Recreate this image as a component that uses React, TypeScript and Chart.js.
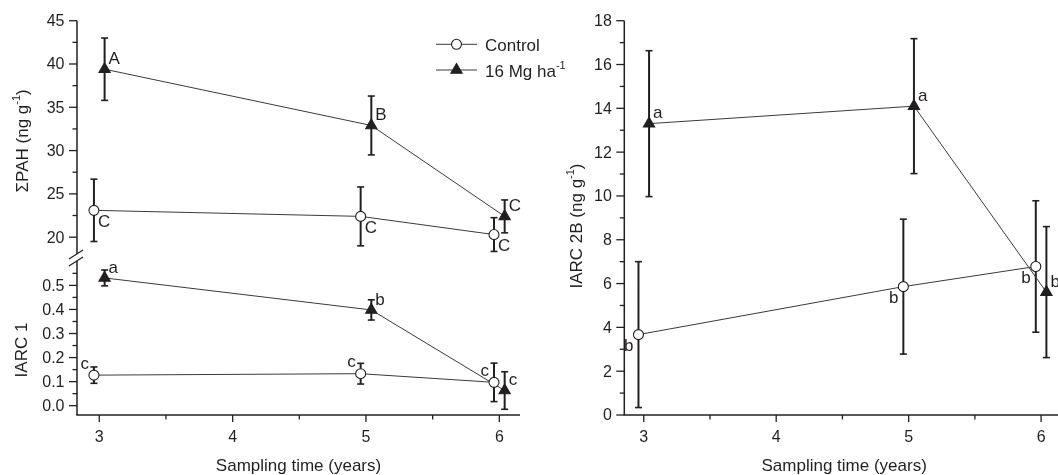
import React, { useEffect, useRef } from 'react';
import { Chart, registerables } from 'chart.js';

Chart.register(...registerables);

// ---------------- data ----------------
const controlX = [2.96, 4.96, 5.96];
const treatX = [3.04, 5.04, 6.04];

const pahControl = [23.1, 22.4, 20.3];
const pahControlSd = [3.6, 3.4, 1.95];
const pahTreat = [39.4, 32.9, 22.4];
const pahTreatSd = [3.6, 3.4, 1.9];
const pahControlLetters = ['C', 'C', 'C'];
const pahTreatLetters = ['A', 'B', 'C'];

const iarc1Control = [0.127, 0.133, 0.097];
const iarc1ControlSd = [0.034, 0.043, 0.08];
const iarc1Treat = [0.531, 0.398, 0.063];
const iarc1TreatSd = [0.033, 0.042, 0.078];
const iarc1ControlLetters = ['c', 'c', 'c'];
const iarc1TreatLetters = ['a', 'b', 'c'];

const iarc2bControl = [3.67, 5.86, 6.78];
const iarc2bControlSd = [3.33, 3.08, 3.0];
const iarc2bTreat = [13.3, 14.1, 5.61];
const iarc2bTreatSd = [3.33, 3.08, 2.99];
const iarc2bControlLetters = ['b', 'b', 'b'];
const iarc2bTreatLetters = ['a', 'a', 'b'];

const xMajorTicks = [3, 4, 5, 6];
const xMinorTicks = [3.5, 4.5, 5.5];
const xTickLabels = ['3', '4', '5', '6'];

const pahMajorTicks = [20, 25, 30, 35, 40, 45];
const pahMinorTicks = [22.5, 27.5, 32.5, 37.5, 42.5];
const pahTickLabels = ['20', '25', '30', '35', '40', '45'];

const iarc1MajorTicks = [0, 0.1, 0.2, 0.3, 0.4, 0.5];
const iarc1MinorTicks = [0.05, 0.15, 0.25, 0.35, 0.45, 0.55];
const iarc1TickLabels = ['0.0', '0.1', '0.2', '0.3', '0.4', '0.5'];

const iarc2bMajorTicks = [0, 2, 4, 6, 8, 10, 12, 14, 16, 18];
const iarc2bMinorTicks = [1, 3, 5, 7, 9, 11, 13, 15, 17];
const iarc2bTickLabels = ['0', '2', '4', '6', '8', '10', '12', '14', '16', '18'];

const legendLabels = ['Control', '16 Mg ha'];
const xTitle = 'Sampling time (years)';

// ---------------- style ----------------
const FONT = '"Liberation Sans", Arial, Helvetica, sans-serif';
const INK = '#231f20';
const LINE = '#3a3a3a';
const TICK_FONT = 16;
const TITLE_FONT = 17;
const LETTER_FONT = 17;

type Seg = { t: string; sup?: boolean };

function drawRich(ctx: CanvasRenderingContext2D, segs: Seg[], size: number, x: number, y: number, align: 'center' | 'left', rotate: boolean) {
  ctx.save();
  ctx.translate(x, y);
  if (rotate) ctx.rotate(-Math.PI / 2);
  let w = 0;
  for (const s of segs) {
    ctx.font = `${s.sup ? Math.round(size * 0.62) : size}px ${FONT}`;
    w += ctx.measureText(s.t).width;
  }
  let cx = align === 'center' ? -w / 2 : 0;
  ctx.fillStyle = INK;
  ctx.textAlign = 'left';
  ctx.textBaseline = 'alphabetic';
  for (const s of segs) {
    ctx.font = `${s.sup ? Math.round(size * 0.62) : size}px ${FONT}`;
    ctx.fillText(s.t, cx, s.sup ? -size * 0.45 : 0);
    cx += ctx.measureText(s.t).width;
  }
  ctx.restore();
}

function line(ctx: CanvasRenderingContext2D, x1: number, y1: number, x2: number, y2: number, w: number, c = INK) {
  ctx.save();
  ctx.strokeStyle = c;
  ctx.lineWidth = w;
  ctx.beginPath();
  ctx.moveTo(x1, y1);
  ctx.lineTo(x2, y2);
  ctx.stroke();
  ctx.restore();
}

function drawYTicks(ctx: CanvasRenderingContext2D, scale: any, ax: number, major: number[], labels: string[], minor: number[]) {
  major.forEach((v, i) => {
    const y = scale.getPixelForValue(v);
    line(ctx, ax - 8, y, ax, y, 1.3);
    ctx.save();
    ctx.font = `${TICK_FONT}px ${FONT}`;
    ctx.fillStyle = INK;
    ctx.textAlign = 'right';
    ctx.textBaseline = 'middle';
    ctx.fillText(labels[i], ax - 12.5, y + 1);
    ctx.restore();
  });
  minor.forEach((v) => {
    const y = scale.getPixelForValue(v);
    line(ctx, ax - 4.5, y, ax, y, 1.3);
  });
}

function drawXTicks(ctx: CanvasRenderingContext2D, scale: any, by: number) {
  xMajorTicks.forEach((v, i) => {
    const x = scale.getPixelForValue(v);
    line(ctx, x, by, x, by + 7, 1.3);
    ctx.save();
    ctx.font = `${TICK_FONT}px ${FONT}`;
    ctx.fillStyle = INK;
    ctx.textAlign = 'center';
    ctx.textBaseline = 'alphabetic';
    ctx.fillText(xTickLabels[i], x, by + 27);
    ctx.restore();
  });
  xMinorTicks.forEach((v) => {
    const x = scale.getPixelForValue(v);
    line(ctx, x, by, x, by + 4.5, 1.3);
  });
}

function drawMarker(ctx: CanvasRenderingContext2D, kind: string, x: number, y: number) {
  ctx.save();
  ctx.lineWidth = 1.1;
  ctx.strokeStyle = INK;
  ctx.beginPath();
  if (kind === 'control') {
    ctx.fillStyle = '#fff';
    ctx.arc(x, y, 5, 0, Math.PI * 2);
  } else {
    ctx.fillStyle = INK;
    const r = 6.5;
    ctx.moveTo(x, y - r);
    ctx.lineTo(x + r * 0.866, y + r / 2);
    ctx.lineTo(x - r * 0.866, y + r / 2);
    ctx.closePath();
  }
  ctx.fill();
  ctx.stroke();
  ctx.restore();
}

function makeDataset(xs: number[], ys: number[], sd: number[], letters: string[], yAxisID: string, kind: string, letterPos: string) {
  const control = kind === 'control';
  return {
    data: xs.map((x, i) => ({ x, y: ys[i] })),
    yAxisID,
    xAxisID: 'x',
    sd,
    letters,
    letterPos,
    borderColor: LINE,
    borderWidth: 1,
    tension: 0,
    fill: false,
    clip: false,
    pointStyle: control ? 'circle' : 'triangle',
    pointRadius: control ? 5 : 6.5,
    pointBackgroundColor: control ? '#ffffff' : INK,
    pointBorderColor: INK,
    pointBorderWidth: 1.1,
  };
}

const errorBarPlugin = {
  id: 'errorBars',
  beforeDatasetsDraw(chart: any) {
    const ctx = chart.ctx as CanvasRenderingContext2D;
    chart.data.datasets.forEach((ds: any) => {
      const xs = chart.scales[ds.xAxisID];
      const ys = chart.scales[ds.yAxisID];
      ds.data.forEach((p: any, j: number) => {
        const x = xs.getPixelForValue(p.x);
        const yt = ys.getPixelForValue(p.y + ds.sd[j]);
        const yb = ys.getPixelForValue(p.y - ds.sd[j]);
        line(ctx, x, yt, x, yb, 2);
        line(ctx, x - 3.5, yt, x + 3.5, yt, 1.6);
        line(ctx, x - 3.5, yb, x + 3.5, yb, 1.6);
      });
    });
  },
  afterDatasetsDraw(chart: any) {
    const ctx = chart.ctx as CanvasRenderingContext2D;
    chart.data.datasets.forEach((ds: any) => {
      const xs = chart.scales[ds.xAxisID];
      const ys = chart.scales[ds.yAxisID];
      ds.data.forEach((p: any, j: number) => {
        const x = xs.getPixelForValue(p.x);
        const y = ys.getPixelForValue(p.y);
        ctx.save();
        ctx.font = `${LETTER_FONT}px ${FONT}`;
        ctx.fillStyle = INK;
        ctx.textBaseline = 'middle';
        let tx = x, ty = y;
        if (ds.letterPos === 'ur') { ctx.textAlign = 'left'; tx = x + 4; ty = y - 10; }
        else if (ds.letterPos === 'lr') { ctx.textAlign = 'left'; tx = x + 4; ty = y + 12; }
        else if (ds.letterPos === 'ul') { ctx.textAlign = 'right'; tx = x - 5; ty = y - 11; }
        else { ctx.textAlign = 'right'; tx = x - 5; ty = y + 12; }
        ctx.fillText(ds.letters[j], tx, ty);
        ctx.restore();
      });
    });
  },
};

const leftDecor = {
  id: 'leftDecor',
  afterDraw(chart: any) {
    const ctx = chart.ctx as CanvasRenderingContext2D;
    const { x, yUp, yLow } = chart.scales;
    const ax = chart.chartArea.left;
    const bottom = chart.chartArea.bottom;
    const yb = yUp.bottom;
    // axes
    line(ctx, ax, chart.chartArea.top, ax, yb - 3, 1.5);
    line(ctx, ax, yb + 4, ax, bottom, 1.5);
    line(ctx, ax - 0.75, bottom, chart.chartArea.right, bottom, 1.5);
    // break marks
    line(ctx, ax - 8, yb + 2, ax + 6, yb - 7, 1.3);
    line(ctx, ax - 8, yb + 9, ax + 6, yb, 1.3);
    drawYTicks(ctx, yUp, ax, pahMajorTicks, pahTickLabels, pahMinorTicks);
    drawYTicks(ctx, yLow, ax, iarc1MajorTicks, iarc1TickLabels, iarc1MinorTicks);
    drawXTicks(ctx, x, bottom);
    // titles
    drawRich(ctx, [{ t: xTitle }], TITLE_FONT, (chart.chartArea.left + chart.chartArea.right) / 2, 471, 'center', false);
    drawRich(ctx, [{ t: 'ΣPAH (ng g' }, { t: '-1', sup: true }, { t: ')' }], TITLE_FONT, 28, (yUp.top + yUp.bottom) / 2 + 2, 'center', true);
    drawRich(ctx, [{ t: 'IARC 1' }], TITLE_FONT, 27, (yLow.top + yLow.bottom) / 2 + 14, 'center', true);
    // legend
    const ly = [44.3, 70];
    const kinds = ['control', 'treat'];
    ly.forEach((y, i) => {
      line(ctx, 436, y, 477, y, 1, LINE);
      drawMarker(ctx, kinds[i], 456.5, y);
    });
    drawRich(ctx, [{ t: legendLabels[0] }], TITLE_FONT, 485, ly[0] + 6.5, 'left', false);
    drawRich(ctx, [{ t: legendLabels[1] }, { t: '-1', sup: true }], TITLE_FONT, 485, ly[1] + 6.5, 'left', false);
  },
};

const rightDecor = {
  id: 'rightDecor',
  afterDraw(chart: any) {
    const ctx = chart.ctx as CanvasRenderingContext2D;
    const { x, y } = chart.scales;
    const ax = chart.chartArea.left;
    const bottom = chart.chartArea.bottom;
    line(ctx, ax, chart.chartArea.top, ax, bottom, 1.5);
    line(ctx, ax - 0.75, bottom, chart.chartArea.right, bottom, 1.5);
    drawYTicks(ctx, y, ax, iarc2bMajorTicks, iarc2bTickLabels, iarc2bMinorTicks);
    drawXTicks(ctx, x, bottom);
    drawRich(ctx, [{ t: xTitle }], TITLE_FONT, (chart.chartArea.left + chart.chartArea.right) / 2, 471, 'center', false);
    drawRich(ctx, [{ t: 'IARC 2B (ng g' }, { t: '-1', sup: true }, { t: ')' }], TITLE_FONT, 42, 226, 'center', true);
  },
};

function hiddenScale(extra: any) {
  return {
    type: 'linear',
    display: true,
    ticks: { display: false },
    grid: { display: false },
    border: { display: false },
    ...extra,
  };
}

function leftConfig(): any {
  return {
    type: 'line',
    data: {
      datasets: [
        makeDataset(controlX, pahControl, pahControlSd, pahControlLetters, 'yUp', 'control', 'lr'),
        makeDataset(treatX, pahTreat, pahTreatSd, pahTreatLetters, 'yUp', 'treat', 'ur'),
        makeDataset(controlX, iarc1Control, iarc1ControlSd, iarc1ControlLetters, 'yLow', 'control', 'ul'),
        makeDataset(treatX, iarc1Treat, iarc1TreatSd, iarc1TreatLetters, 'yLow', 'treat', 'ur'),
      ],
    },
    options: {
      responsive: false,
      animation: false,
      events: [],
      layout: { padding: { left: 0, top: 20.7, right: 100, bottom: 0 } },
      plugins: { legend: { display: false }, tooltip: { enabled: false }, title: { display: false } },
      scales: {
        x: hiddenScale({ position: 'bottom', min: 2.833, max: 6.155, afterFit: (s: any) => { s.height = 60; } }),
        yLow: hiddenScale({ position: 'left', stack: 'left', stackWeight: 158, min: -0.0387, max: 0.618, afterFit: (s: any) => { s.width = 77; } }),
        yUp: hiddenScale({ position: 'left', stack: 'left', stackWeight: 236.3, min: 17.71, max: 45, afterFit: (s: any) => { s.width = 77; } }),
      },
    },
    plugins: [errorBarPlugin, leftDecor],
  };
}

function rightConfig(): any {
  return {
    type: 'line',
    data: {
      datasets: [
        makeDataset(controlX, iarc2bControl, iarc2bControlSd, iarc2bControlLetters, 'y', 'control', 'll'),
        makeDataset(treatX, iarc2bTreat, iarc2bTreatSd, iarc2bTreatLetters, 'y', 'treat', 'ur'),
      ],
    },
    options: {
      responsive: false,
      animation: false,
      events: [],
      layout: { padding: { left: 0, top: 20.7, right: 16, bottom: 0 } },
      plugins: { legend: { display: false }, tooltip: { enabled: false }, title: { display: false } },
      scales: {
        x: hiddenScale({ position: 'bottom', min: 2.853, max: 6.173, afterFit: (s: any) => { s.height = 60; } }),
        y: hiddenScale({ position: 'left', min: 0, max: 18, afterFit: (s: any) => { s.width = 84.3; } }),
      },
    },
    plugins: [errorBarPlugin, rightDecor],
  };
}

export default function App() {
  const leftRef = useRef<HTMLCanvasElement>(null);
  const rightRef = useRef<HTMLCanvasElement>(null);
  useEffect(() => {
    const c1 = new Chart(leftRef.current as HTMLCanvasElement, leftConfig());
    const c2 = new Chart(rightRef.current as HTMLCanvasElement, rightConfig());
    return () => {
      c1.destroy();
      c2.destroy();
    };
  }, []);
  return (
    <div style={{ position: 'absolute', left: 0, top: 0, width: 1058, height: 475, overflow: 'hidden', background: '#fff' }}>
      <canvas ref={rightRef} width={540} height={475} style={{ position: 'absolute', left: 540, top: 0, display: 'block' }} />
      <canvas ref={leftRef} width={620} height={475} style={{ position: 'absolute', left: 0, top: 0, display: 'block' }} />
    </div>
  );
}
